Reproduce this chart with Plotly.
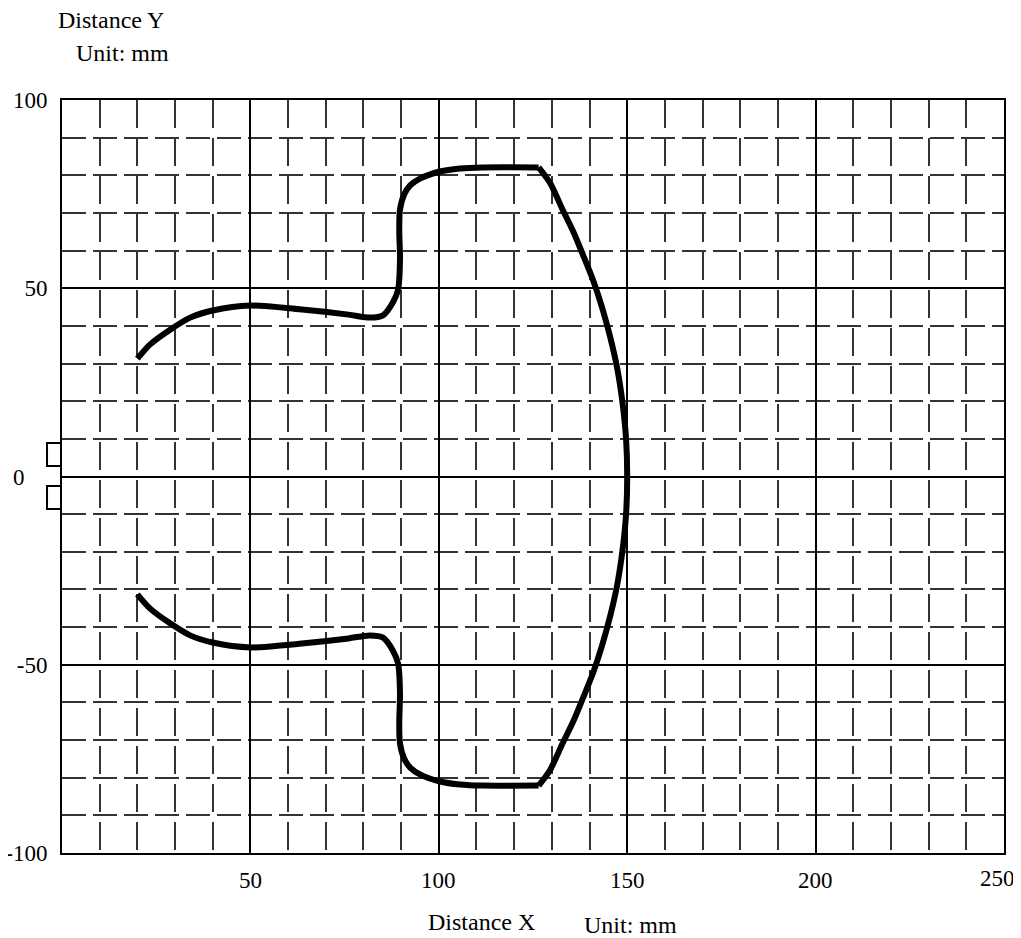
import plotly.graph_objects as go

# Upper branch: from left tip to top-right corner
upper_x = [20, 23.4, 28.7, 34, 40, 50, 63, 76, 81.7, 85.2, 87.8, 89.2, 89.7, 89.5, 89.7, 90.8, 92.4, 95, 100.3, 105.6, 111.7, 126.5]
upper_y = [31.3, 35.1, 39, 42.2, 44.1, 45.4, 44.4, 43, 42.2, 42.8, 46.2, 49.7, 57.6, 65.6, 70.9, 74.9, 77.3, 79.1, 81, 81.8, 82.1, 82.1]

# Arc: from top-right corner down to bottom-right corner
arc_x = [126.5, 129.5, 132.8, 135.7, 138.2, 141, 143.3, 145.5, 147.3, 148.7, 149.7, 150,
         149.7, 148.7, 147.3, 145.5, 143.3, 141, 138.2, 135.7, 132.8, 129.5, 126.5]
arc_y = [82.1, 78, 71, 65, 59, 52, 45, 37, 29, 20, 10, 0,
         -10, -20, -29, -37, -45, -52, -59, -65, -71, -78, -82.1]

# Lower branch: from bottom-right corner back to left tip
lower_x = [126.5, 111.7, 105.6, 100.3, 95, 92.4, 90.8, 89.7, 89.5, 89.7, 89.2, 87.8, 85.2, 81.7, 76, 63, 50, 40, 34, 28.7, 23.4, 20]
lower_y = [-82.1, -82.1, -81.8, -81, -79.1, -77.3, -74.9, -70.9, -65.6, -57.6, -49.7, -46.2, -42.8, -42.2, -43, -44.4, -45.4, -44.1, -42.2, -39, -35.1, -31.3]

x_tickvals = [50, 100, 150, 200, 250]
x_ticktext = ["50", "100", "150", "200", "250"]
y_tickvals = [100, 50, 0, -50, -100]
y_ticktext = ["100", "50", "0\u00a0\u00a0\u00a0\u00a0", "-50", "-100"]

FONT = "Liberation Serif, Times New Roman, serif"

fig = go.Figure()
for xs, ys in [(upper_x, upper_y), (arc_x, arc_y), (lower_x, lower_y)]:
    fig.add_trace(go.Scatter(x=xs, y=ys, mode="lines",
                             line=dict(color="black", width=6, shape="spline", smoothing=0.8),
                             showlegend=False, hoverinfo="skip"))

# page body has an 8px margin: figure is shifted by 8px, so size/margins compensate
fig.update_layout(
    width=1013, height=930,
    margin=dict(l=54, r=17, t=92, b=85),
    paper_bgcolor="white", plot_bgcolor="white",
    font=dict(family=FONT, size=23, color="black"),
    showlegend=False,
)

fig.update_xaxes(
    range=[0, 250], tickmode="array", tickvals=x_tickvals, ticktext=x_ticktext,
    showticklabels=False,
    showgrid=True, gridcolor="black", gridwidth=2,
    showline=True, linecolor="black", linewidth=2, mirror=True,
    ticks="", zeroline=False, automargin=False,
    minor=dict(dtick=10, tick0=0, showgrid=True, gridcolor="#333333", gridwidth=2, griddash="28px,10px"),
)
fig.update_yaxes(
    range=[-100, 100], tickmode="array", tickvals=y_tickvals, ticktext=y_ticktext,
    showgrid=True, gridcolor="black", gridwidth=2,
    showline=True, linecolor="black", linewidth=2, mirror=True,
    ticks="", zeroline=False, ticklabelstandoff=8, automargin=False,
    ticklabeloverflow="allow",
    tickfont=dict(family=FONT, size=23, color="black"),
    minor=dict(dtick=10, tick0=0, showgrid=True, gridcolor="#333333", gridwidth=2, griddash="24px,7px"),
)

# x tick labels placed on the x scale (last one nudged left/up as in the reference)
for i, (v, t) in enumerate(zip(x_tickvals, x_ticktext)):
    last = i == len(x_tickvals) - 1
    fig.add_annotation(text=t, x=v, xref="x", y=-0.0359, yref="paper",
                       showarrow=False, xanchor="center", yanchor="middle",
                       xshift=-7 if last else 0, yshift=2 if last else 0,
                       font=dict(family=FONT, size=23, color="black"))

# small open boxes at the left of the axis near y = 0
for y0, y1 in [(0.5445, 0.514), (0.4874, 0.4568)]:
    fig.add_shape(type="path", xref="paper", yref="paper",
                  path=f"M 0,{y0} L -0.0159,{y0} L -0.0159,{y1} L 0,{y1}",
                  line=dict(color="black", width=2))

annots = [
    ("Distance Y", 0.052, 1.106),
    ("Unit: mm", 0.0637, 1.062),
    ("Distance X", 0.445, -0.0916),
    ("Unit: mm", 0.603, -0.0956),
]
for text, ax, ay in annots:
    fig.add_annotation(text=text, x=ax, y=ay, xref="paper", yref="paper",
                       showarrow=False, xanchor="center", yanchor="middle",
                       font=dict(family=FONT, size=24, color="black"))

fig.write_html("out.html")
